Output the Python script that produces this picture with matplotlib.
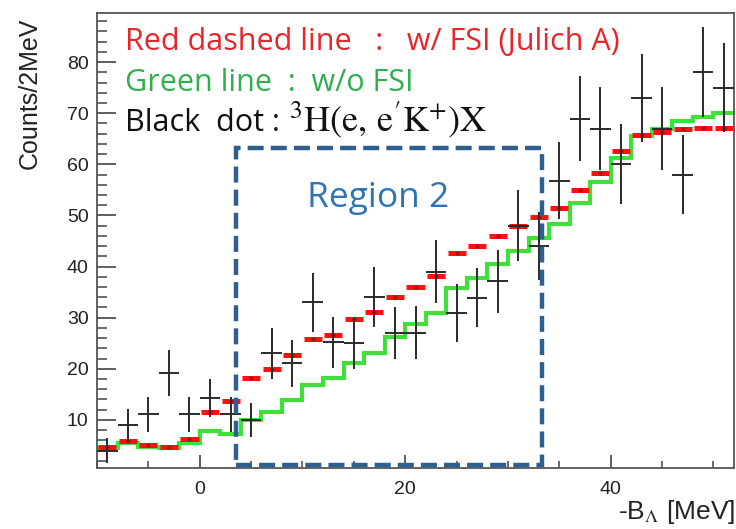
import numpy as np
import matplotlib
matplotlib.use("Agg")
import matplotlib.pyplot as plt
from matplotlib.patches import Rectangle
from matplotlib.ticker import MultipleLocator

# ---- data ----
bin_edges = list(range(-10, 53, 2))
red_fsi = [4.7, 5.9, 5.1, 4.8, 6.2, 11.5, 13.8, 18.3, 19.9, 22.8, 25.8, 26.6, 29.7, 31.1,
           34.0, 36.1, 38.1, 42.6, 44.0, 46.0, 47.9, 49.6, 51.5, 54.9, 58.4, 62.7, 65.8,
           66.4, 67.0, 67.2, 67.2]
green_nofsi = [4.5, 5.4, 4.8, 4.5, 5.4, 7.8, 7.3, 10.0, 11.6, 13.9, 16.8, 18.2, 21.1, 23.0,
               26.2, 28.7, 31.0, 35.9, 37.8, 40.6, 43.0, 45.6, 48.4, 52.5, 56.5, 61.3, 65.6,
               67.0, 68.5, 69.2, 70.0]
data_counts = [4.0, 9.0, 11.1, 19.1, 11.1, 14.3, 11.1, 10.0, 23.0, 21.1, 33.0, 25.2, 25.0, 34.0,
               27.0, 27.1, 39.0, 30.9, 33.9, 37.1, 48.0, 44.0, 56.8, 68.9, 67.0, 60.1, 73.0,
               67.0, 58.0, 78.0, 75.0]
data_err = [2.5, 3.2, 3.4, 4.5, 3.4, 3.7, 3.4, 3.4, 4.9, 4.6, 5.8, 5.0, 5.0, 5.9,
            5.1, 5.1, 6.2, 5.6, 5.8, 6.1, 6.9, 6.6, 7.5, 8.3, 8.2, 7.8, 8.6,
            8.1, 7.7, 8.8, 8.7]
region_x = [3.5, 33.3]
region_y = [1.2, 63.1]
x_ticks = [0, 20, 40]
y_ticks = [10, 20, 30, 40, 50, 60, 70, 80]

edges = np.array(bin_edges, dtype=float)
centers = 0.5 * (edges[:-1] + edges[1:])

plt.rcParams['mathtext.fontset'] = 'stix'

W, H = 736, 529
fig = plt.figure(figsize=(W / 100, H / 100), dpi=100)
ax = fig.add_axes([97 / W, 1 - 468 / H, (734 - 97) / W, (468 - 13) / H])

ax.set_xlim(-10, 52)
ax.set_ylim(0.6, 89.6)

# green histogram (w/o FSI)
ax.stairs(green_nofsi, edges, baseline=None, color='#3fe03a', lw=3.0, zorder=2)
# red dashed (w/ FSI): horizontal segments per bin
ax.hlines(red_fsi, edges[:-1] + 0.12, edges[1:] - 0.12, color='#ff1010', lw=3.6, zorder=3)
ax.plot(centers, red_fsi, 'o', color='#b01010', ms=2.2, zorder=4, lw=0)
# black data crosses
ax.errorbar(centers, data_counts, yerr=data_err, xerr=1.0, fmt='none',
            ecolor='#2a2a2a', elinewidth=1.4, capsize=0, zorder=5)

# region box
rect = Rectangle((region_x[0], region_y[0]), region_x[1] - region_x[0], region_y[1] - region_y[0],
                 fill=False, edgecolor='#2d5f8f', lw=3.2, ls=(0, (3.6, 1.6)), zorder=6,
                 clip_on=False)
ax.add_patch(rect)
ax.text(17.4, 53.4, 'Region 2', color='#2e74b5',
        fontsize=25.5, family='Open Sans', ha='center', va='center', zorder=7)

# ticks
ax.set_xticks(x_ticks)
ax.set_yticks(y_ticks)
ax.xaxis.set_minor_locator(MultipleLocator(5))
ax.yaxis.set_minor_locator(MultipleLocator(2))
ax.tick_params(axis='y', which='major', direction='in', length=13.5, width=1.2,
               colors='#444444', labelcolor='#222222', labelsize=14, pad=6)
ax.tick_params(axis='y', which='minor', direction='in', length=7.5, width=1.1, colors='#444444')
ax.tick_params(axis='x', which='major', direction='in', length=9.5, width=1.2,
               colors='#444444', labelcolor='#222222', labelsize=14, pad=9)
ax.tick_params(axis='x', which='minor', direction='in', length=5, width=1.1, colors='#444444')
for lab in ax.get_xticklabels() + ax.get_yticklabels():
    lab.set_family('Liberation Sans')
for s in ax.spines.values():
    s.set_color('#555555')
    s.set_linewidth(1.3)

# axis labels
fig.text(30 / W, 1 - 93 / H, 'Counts/2MeV', rotation=90, ha='center', va='center',
         fontsize=18, family='Liberation Sans', color='#222222')
fig.text(735 / W, 1 - 512 / H, r'-B$_{\Lambda}$ [MeV]', ha='right', va='center',
         fontsize=19, family='Liberation Sans', color='#222222')

# annotation texts
fig.text(125 / W, 1 - 50 / H, 'Red dashed line   :   w/ FSI (Julich A)', color='#e8252a',
         fontsize=22, family='Open Sans', ha='left', va='baseline')
fig.text(125 / W, 1 - 91 / H, 'Green line  :  w/o FSI', color='#2faf4d',
         fontsize=22, family='Open Sans', ha='left', va='baseline')
t_black = fig.text(125 / W, 1 - 131 / H, 'Black  dot :', color='#111111',
                   fontsize=22, family='Open Sans', ha='left', va='baseline')
fig.canvas.draw()
bb = t_black.get_window_extent(renderer=fig.canvas.get_renderer())
x_formula = (bb.x1 + 9) / W
fig.text(x_formula, 1 - 131 / H,
         r'$^{3}\mathrm{H}(\mathrm{e},\,\mathrm{e}^{\prime}\mathrm{K}^{+})\mathrm{X}$',
         color='#111111', fontsize=26, ha='left', va='baseline')

fig.savefig('out.png', dpi=100)
